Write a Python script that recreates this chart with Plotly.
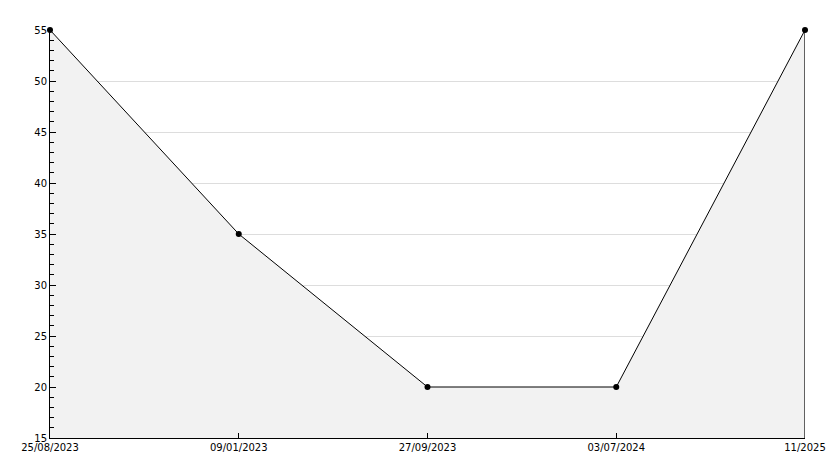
import plotly.graph_objects as go

categories = ["25/08/2023", "09/01/2023", "27/09/2023", "03/07/2024", "11/2025"]
values = [55, 35, 20, 20, 55]
y_min, y_max = 15, 55

fig = go.Figure()
fig.add_trace(go.Scatter(
    x=list(range(len(categories))), y=values, mode="lines",
    line=dict(color="black", width=1),
    fill="tozeroy", fillcolor="#f2f2f2", hoverinfo="skip", showlegend=False,
))
# right edge of the filled area
fig.add_trace(go.Scatter(
    x=[len(categories) - 1, len(categories) - 1], y=[y_min, values[-1]],
    mode="lines", line=dict(color="black", width=1.2), showlegend=False, hoverinfo="skip",
))
fig.add_trace(go.Scatter(
    x=list(range(len(categories))), y=values, mode="markers",
    marker=dict(symbol="circle", size=6, color="black", line=dict(width=0)),
    cliponaxis=False, hoverinfo="skip", showlegend=False,
))

fig.update_layout(
    width=834, height=468,
    margin=dict(l=50, r=29, t=30, b=30, autoexpand=False),
    paper_bgcolor="white", plot_bgcolor="white",
    font=dict(family="DejaVu Sans", size=10, color="black"),
)
fig.update_xaxes(
    range=[0, len(categories) - 1], tickmode="array",
    tickvals=list(range(len(categories))), ticktext=categories,
    showgrid=False, zeroline=False, showline=True, linecolor="black", linewidth=1,
    ticks="inside", ticklen=5, tickcolor="black", automargin=False,
)
fig.update_yaxes(
    range=[y_min, y_max], dtick=5, tick0=15,
    showgrid=True, gridcolor="#dddddd", gridwidth=1, zeroline=False,
    showline=True, linecolor="black", linewidth=1,
    ticks="inside", ticklen=6, tickcolor="black", automargin=False,
    minor=dict(dtick=1, ticks="inside", ticklen=4, tickcolor="black", showgrid=False),
)
fig.write_html(
    "out.html",
    config={"displayModeBar": False},
    post_script="document.body.style.margin='0';document.body.style.overflow='hidden';",
)
